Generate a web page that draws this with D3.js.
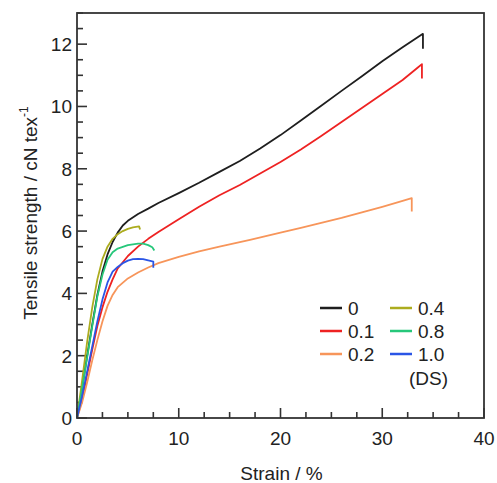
<!DOCTYPE html>
<html>
<head>
<meta charset="utf-8">
<script src="https://cdn.jsdelivr.net/npm/d3@7"></script>
<style>
  body { margin: 0; background: #fff; }
  svg text { font-family: "Liberation Sans", Arial, sans-serif; fill: #222; }
</style>
</head>
<body>
<div id="chart"></div>
<script>
// Series names (degree of substitution) and colours
const seriesNames = ["0", "0.1", "0.2", "0.4", "0.8", "1.0"];
const seriesColors = ["#1e1e1e", "#ee2222", "#f7955a", "#acac1e", "#26c77a", "#2a55e6"];

// Strain (%) / tensile strength (cN tex-1)
const strain0 = [0, 0.5, 1, 1.5, 2, 2.5, 3, 3.5, 4, 4.5, 5, 6, 7, 8, 10, 12, 14, 16, 18, 20, 22, 24, 26, 28, 30, 32, 34, 34];
const stress0 = [0, 0.95, 2.0, 3.0, 3.95, 4.7, 5.25, 5.65, 5.95, 6.18, 6.33, 6.55, 6.72, 6.9, 7.22, 7.55, 7.9, 8.25, 8.65, 9.08, 9.55, 10.02, 10.5, 10.97, 11.45, 11.9, 12.33, 11.85];

const strain01 = [0, 0.5, 1, 1.5, 2, 2.5, 3, 3.5, 4, 5, 6, 7, 8, 10, 12, 14, 16, 18, 20, 22, 24, 26, 28, 30, 32, 33.5, 33.9, 33.9];
const stress01 = [0, 0.6, 1.4, 2.2, 2.95, 3.55, 4.05, 4.45, 4.8, 5.2, 5.5, 5.75, 5.97, 6.38, 6.78, 7.15, 7.48, 7.85, 8.22, 8.62, 9.05, 9.5, 9.95, 10.4, 10.85, 11.25, 11.36, 10.9];

const strain02 = [0, 0.5, 1, 1.5, 2, 2.5, 3, 3.5, 4, 5, 6, 7, 8, 10, 12, 14, 17, 20, 22, 24, 26, 28, 30, 32, 32.9, 32.9];
const stress02 = [0, 0.5, 1.15, 1.85, 2.5, 3.1, 3.6, 3.95, 4.2, 4.48, 4.67, 4.83, 4.97, 5.17, 5.35, 5.5, 5.72, 5.95, 6.1, 6.26, 6.42, 6.6, 6.78, 6.97, 7.06, 6.63];

const strain04 = [0, 0.5, 1, 1.5, 2, 2.5, 3, 3.5, 4, 4.5, 5, 5.5, 6.1, 6.2];
const stress04 = [0, 1.2, 2.45, 3.55, 4.45, 5.1, 5.5, 5.75, 5.9, 6.0, 6.07, 6.12, 6.15, 6.05];

const strain08 = [0, 0.5, 1, 1.5, 2, 2.5, 3, 3.5, 4, 5, 6, 6.5, 7, 7.4, 7.6];
const stress08 = [0, 0.95, 1.95, 2.95, 3.9, 4.6, 5.08, 5.32, 5.44, 5.55, 5.6, 5.6, 5.55, 5.48, 5.38];

const strain10 = [0, 0.5, 1, 1.5, 2, 2.5, 3, 3.5, 4, 4.5, 5, 5.5, 6, 6.5, 7, 7.5, 7.5];
const stress10 = [0, 0.7, 1.5, 2.3, 3.1, 3.8, 4.35, 4.7, 4.85, 4.97, 5.05, 5.1, 5.11, 5.1, 5.06, 5.02, 4.82];

const strains = [strain0, strain01, strain02, strain04, strain08, strain10];
const stresses = [stress0, stress01, stress02, stress04, stress08, stress10];

// Axis ticks
const xTicks = [0, 10, 20, 30, 40];
const yTicks = [0, 2, 4, 6, 8, 10, 12];

const width = 497, height = 483;
const margin = { top: 13, right: 13, bottom: 65, left: 77 };

const svg = d3.select("#chart").append("svg")
    .attr("width", width)
    .attr("height", height);

const x = d3.scaleLinear().domain([0, 40]).range([margin.left, width - margin.right]);
const y = d3.scaleLinear().domain([0, 13]).range([height - margin.bottom, margin.top]);

// minor ticks
const xMinor = d3.range(0, 40.01, 2.5).filter(v => v % 10 !== 0);
const yMinor = d3.range(0, 13.01, 0.5).filter(v => v % 2 !== 0);

const g = svg.append("g");

// bottom ticks (inward)
g.selectAll(".xmaj").data(xTicks).enter().append("line")
    .attr("x1", d => x(d)).attr("x2", d => x(d))
    .attr("y1", y(0)).attr("y2", y(0) - 10)
    .attr("stroke", "#333").attr("stroke-width", 1.6);
g.selectAll(".xmin").data(xMinor).enter().append("line")
    .attr("x1", d => x(d)).attr("x2", d => x(d))
    .attr("y1", y(0)).attr("y2", y(0) - 6)
    .attr("stroke", "#333").attr("stroke-width", 1.6);

// left ticks (inward)
g.selectAll(".ymaj").data(yTicks).enter().append("line")
    .attr("x1", x(0)).attr("x2", x(0) + 10)
    .attr("y1", d => y(d)).attr("y2", d => y(d))
    .attr("stroke", "#333").attr("stroke-width", 1.6);
g.selectAll(".ymin").data(yMinor).enter().append("line")
    .attr("x1", x(0)).attr("x2", x(0) + 6)
    .attr("y1", d => y(d)).attr("y2", d => y(d))
    .attr("stroke", "#333").attr("stroke-width", 1.6);

// tick labels
g.selectAll(".xlab").data(xTicks).enter().append("text")
    .attr("x", d => x(d)).attr("y", y(0) + 27)
    .attr("text-anchor", "middle")
    .attr("font-size", "19px")
    .text(d => d);
g.selectAll(".ylab").data(yTicks).enter().append("text")
    .attr("x", x(0) - 5).attr("y", d => y(d) + 7)
    .attr("text-anchor", "end")
    .attr("font-size", "19px")
    .text(d => d);

// curves
const line = d3.line()
    .x(d => x(d[0]))
    .y(d => y(d[1]));

seriesNames.forEach((name, i) => {
    const pts = strains[i].map((s, j) => [s, stresses[i][j]]);
    svg.append("path")
        .datum(pts)
        .attr("d", line)
        .attr("fill", "none")
        .attr("stroke", seriesColors[i])
        .attr("stroke-width", 1.8)
        .attr("stroke-linejoin", "round");
});

// frame
svg.append("rect")
    .attr("x", x(0)).attr("y", y(13))
    .attr("width", x(40) - x(0)).attr("height", y(0) - y(13))
    .attr("fill", "none")
    .attr("stroke", "#333")
    .attr("stroke-width", 1.8);

// axis titles
svg.append("text")
    .attr("x", (x(0) + x(40)) / 2 + 1)
    .attr("y", 480)
    .attr("text-anchor", "middle")
    .attr("font-size", "19px")
    .text("Strain / %");

const yt = svg.append("text")
    .attr("transform", "translate(37,213) rotate(-90)")
    .attr("text-anchor", "middle")
    .attr("font-size", "19px");
yt.append("tspan").text("Tensile strength / cN tex");
yt.append("tspan").attr("font-size", "12px").attr("dy", "-9").text("-1");

// legend
const legend = svg.append("g");
seriesNames.forEach((name, i) => {
    const col = Math.floor(i / 3), row = i % 3;
    const lx = 320 + col * 70, ly = 308 + row * 23;
    legend.append("line")
        .attr("x1", lx).attr("x2", lx + 22)
        .attr("y1", ly).attr("y2", ly)
        .attr("stroke", seriesColors[i])
        .attr("stroke-width", 2.5);
    legend.append("text")
        .attr("x", lx + 28).attr("y", ly + 7)
        .attr("font-size", "19px")
        .text(name);
});
legend.append("text")
    .attr("x", 448).attr("y", 385)
    .attr("text-anchor", "end")
    .attr("font-size", "19px")
    .text("(DS)");
</script>
</body>
</html>
